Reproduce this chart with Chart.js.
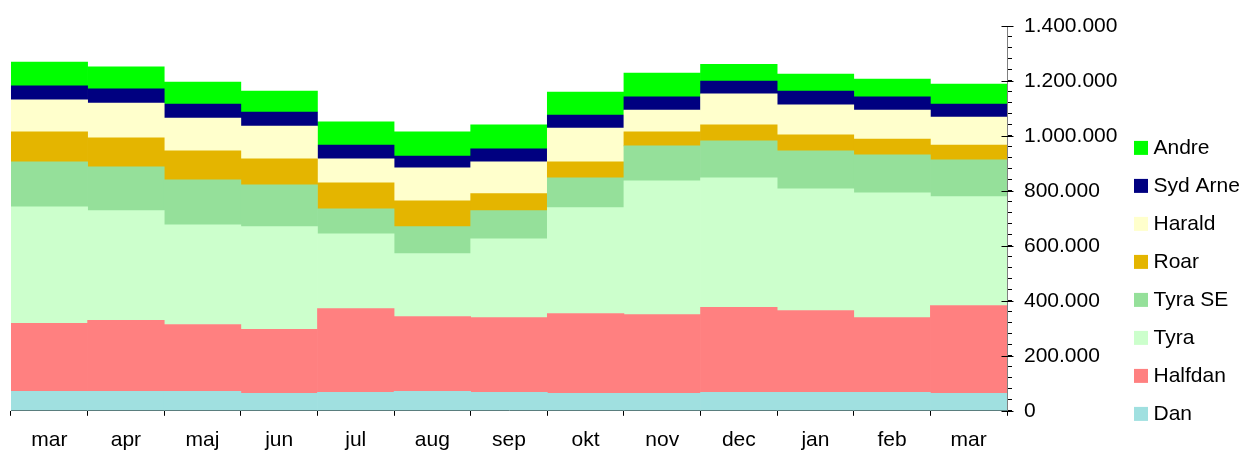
<!DOCTYPE html>
<html>
<head>
<meta charset="utf-8">
<script src="https://cdn.jsdelivr.net/npm/chart.js@4/dist/chart.umd.min.js"></script>
<style>
    html, body { margin: 0; padding: 0; background: #fff; overflow: hidden; }
    #wrap { width: 1242px; height: 466px; position: relative; }
</style>
</head>
<body>
<div id="wrap"><canvas id="chart"></canvas></div>
<script>
const months = ['mar', 'apr', 'maj', 'jun', 'jul', 'aug', 'sep', 'okt', 'nov', 'dec', 'jan', 'feb', 'mar'];

const dan     = [71000, 71000, 71000, 64000, 67000, 71000, 67000, 64000, 64000, 67000, 67000, 67000, 64000];
const halfdan = [247000, 258000, 243000, 232000, 305000, 272000, 272000, 290000, 286000, 309000, 298000, 272000, 319000];
const tyra    = [424000, 399000, 363000, 374000, 272000, 229000, 287000, 385000, 487000, 472000, 443000, 454000, 396000];
const tyraSE  = [164000, 160000, 163000, 152000, 91000, 98000, 102000, 109000, 127000, 134000, 138000, 138000, 134000];
const roar    = [109000, 105000, 106000, 95000, 94000, 94000, 62000, 58000, 51000, 58000, 58000, 58000, 54000];
const harald  = [116000, 127000, 119000, 119000, 88000, 120000, 116000, 123000, 79000, 113000, 109000, 105000, 102000];
const sydArne = [51000, 51000, 51000, 51000, 50000, 43000, 47000, 47000, 48000, 47000, 50000, 48000, 47000];
const andre   = [87000, 80000, 80000, 76000, 84000, 88000, 87000, 84000, 87000, 61000, 62000, 65000, 73000];

const yMax = 1400000;
const yMajorStep = 200000;
const yMinorStep = 40000;

const fmtDots = (v) => String(v).replace(/\B(?=(\d{3})+(?!\d))/g, '.');
const FONT = '"Liberation Sans", Arial, sans-serif';

const series = [
    { label: 'Dan', data: dan, backgroundColor: '#A0E0E0' },
    { label: 'Halfdan', data: halfdan, backgroundColor: '#FF8080' },
    { label: 'Tyra', data: tyra, backgroundColor: '#CCFFCC' },
    { label: 'Tyra SE', data: tyraSE, backgroundColor: '#95E09A' },
    { label: 'Roar', data: roar, backgroundColor: '#E4B500' },
    { label: 'Harald', data: harald, backgroundColor: '#FFFFCC' },
    { label: 'Syd Arne', data: sydArne, backgroundColor: '#000080' },
    { label: 'Andre', data: andre, backgroundColor: '#00FF00' }
].map(ds => ({ ...ds, borderWidth: 0, barPercentage: 1, categoryPercentage: 1 }));

// major ticks cross the axis line, minor ones only stick out to the right
const crossTicks = {
    id: 'crossTicks',
    afterDraw(chart) {
        const y = chart.scales.y;
        const ctx = chart.ctx;
        const x = Math.round(y.left) + 0.5;
        ctx.save();
        ctx.strokeStyle = '#000';
        ctx.lineWidth = 1;
        for (let v = 0; v <= yMax; v += yMajorStep) {
            const py = Math.round(y.getPixelForValue(v)) + 0.5;
            ctx.beginPath();
            ctx.moveTo(x - 6, py);
            ctx.lineTo(x + 6, py);
            ctx.stroke();
        }
        ctx.restore();
    }
};

new Chart(document.getElementById('chart'), {
    type: 'bar',
    data: { labels: months, datasets: series },
    plugins: [crossTicks],
    options: {
        responsive: true,
        maintainAspectRatio: false,
        animation: false,
        layout: { padding: { left: 11, top: 26, right: 0, bottom: 1 } },
        plugins: {
            tooltip: { enabled: false },
            legend: {
                position: 'right',
                align: 'start',
                reverse: true,
                maxWidth: 120,
                title: { display: true, text: ' ', font: { size: 12 }, padding: { top: 80, bottom: 0 } },
                labels: {
                    usePointStyle: true,
                    pointStyle: 'rect',
                    boxWidth: 4,
                    boxHeight: 14,
                    padding: 17,
                    color: '#000',
                    font: { family: FONT, size: 21 }
                }
            }
        },
        scales: {
            x: {
                stacked: true,
                grid: { display: true, drawOnChartArea: false, drawTicks: true, tickLength: 5, color: '#000' },
                border: { display: true, color: '#000' },
                ticks: {
                    color: '#000',
                    padding: 12,
                    autoSkip: false,
                    maxRotation: 0,
                    font: { family: FONT, size: 21 }
                }
            },
            y: {
                stacked: true,
                position: 'right',
                min: 0,
                max: yMax,
                afterFit: (scale) => { scale.width = 115; },
                grid: { display: true, drawOnChartArea: false, drawTicks: true, tickLength: 5, color: '#000' },
                border: { display: true, color: '#808080' },
                ticks: {
                    stepSize: yMinorStep,
                    autoSkip: false,
                    padding: 12,
                    color: '#000',
                    font: { family: FONT, size: 21 },
                    callback: (v) => (v % yMajorStep === 0 ? fmtDots(v) : '')
                }
            }
        }
    }
});
</script>
</body>
</html>
